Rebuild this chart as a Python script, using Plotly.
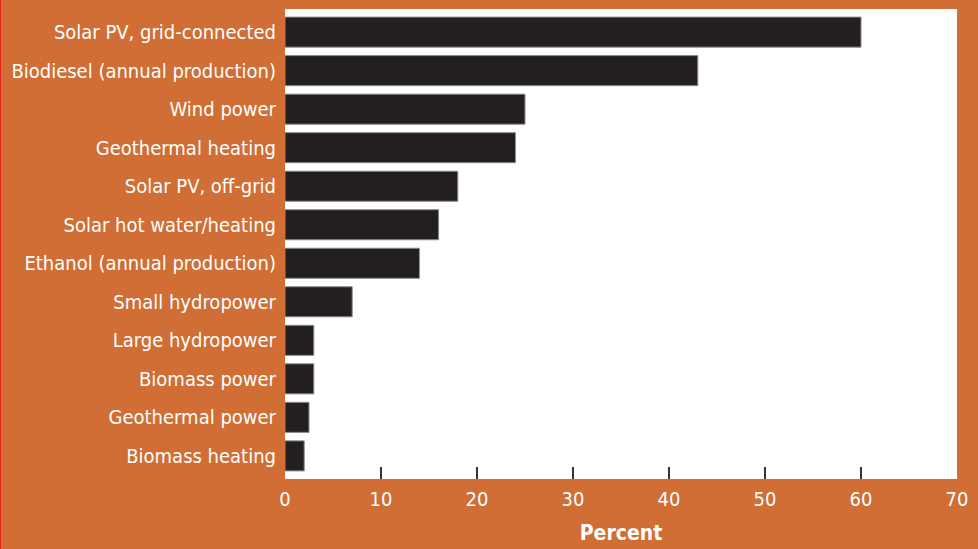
import plotly.graph_objects as go

# Annual growth rates of renewable energy capacity / production
categories = [
    "Solar PV, grid-connected",
    "Biodiesel (annual production)",
    "Wind power",
    "Geothermal heating",
    "Solar PV, off-grid",
    "Solar hot water/heating",
    "Ethanol (annual production)",
    "Small hydropower",
    "Large hydropower",
    "Biomass power",
    "Geothermal power",
    "Biomass heating",
]
growth_percent = [60, 43, 25, 24, 18, 16, 14, 7, 3, 3, 2.5, 2]

x_tick_values = [0, 10, 20, 30, 40, 50, 60, 70]
x_tick_labels = ["0", "10", "20", "30", "40", "50", "60", "70"]
inner_tick_values = [10, 20, 30, 40, 50, 60]

ORANGE = "#D06E35"
BAR = "#231F20"
FONT = "DejaVu Sans Condensed, Liberation Sans Narrow, Arial Narrow, sans-serif"

fig = go.Figure()
fig.add_trace(go.Bar(
    x=growth_percent,
    y=categories,
    orientation="h",
    marker=dict(color=BAR, line=dict(color="#8a8a8a", width=1)),
    width=0.78,
    hoverinfo="x+y",
))
# invisible trace so the label axis is rendered
fig.add_trace(go.Scatter(
    x=[0, 70], y=[categories[0], categories[0]],
    xaxis="x2", mode="markers", marker=dict(opacity=0),
    hoverinfo="skip", showlegend=False,
))

fig.update_layout(
    width=978, height=549,
    paper_bgcolor=ORANGE,
    plot_bgcolor="white",
    margin=dict(l=285, r=21, t=9, b=70),
    showlegend=False,
    font=dict(family=FONT, color="white", size=20),
    xaxis=dict(
        range=[0, 70],
        tickvals=inner_tick_values,
        ticks="inside", ticklen=12, tickwidth=2, tickcolor="#333333",
        showticklabels=False,
        showgrid=False, zeroline=False, showline=False,
        fixedrange=True, automargin=False,
    ),
    xaxis2=dict(
        overlaying="x",
        side="bottom",
        range=[0, 70],
        tickvals=x_tick_values,
        ticktext=x_tick_labels,
        ticks="",
        ticklabelstandoff=6,
        tickfont=dict(family=FONT, color="white", size=20),
        title=dict(text="<b>Percent</b>", standoff=15,
                   font=dict(family=FONT, color="white", size=21)),
        showgrid=False, zeroline=False, showline=False,
        automargin=False,
    ),
    yaxis=dict(
        categoryorder="array",
        categoryarray=categories,
        autorange=False,
        range=[11.6, -0.6],
        ticks="",
        ticklabelstandoff=8,
        tickfont=dict(family=FONT, color="white", size=20),
        showgrid=False, zeroline=False, showline=False,
        automargin=False,
    ),
    shapes=[dict(
        type="line", xref="paper", yref="paper",
        x0=-285 / 672, x1=-285 / 672, y0=-70 / 470, y1=1 + 9 / 470,
        line=dict(color="#E8201A", width=2),
    )],
)

fig.write_html("out.html")
